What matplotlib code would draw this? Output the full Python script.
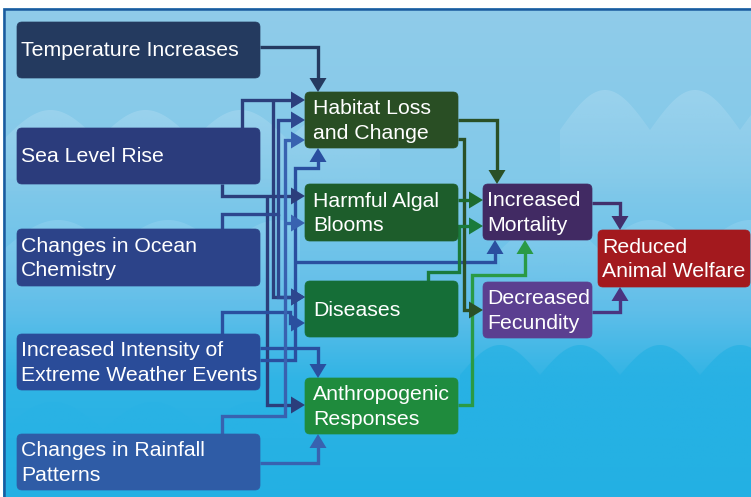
import matplotlib
matplotlib.use("Agg")
import matplotlib.pyplot as plt
import numpy as np
from matplotlib.patches import FancyBboxPatch, Polygon
from matplotlib.colors import LinearSegmentedColormap, to_rgb

# ---------------- data: nodes and links ----------------
node_ids = ["temp", "sea", "chem", "ext", "rain",
            "hab", "hab2", "dis", "anth",
            "mort", "fec", "red"]
node_labels = ["Temperature Increases", "Sea Level Rise", "Changes in Ocean\nChemistry",
               "Increased Intensity of\nExtreme Weather Events", "Changes in Rainfall\nPatterns",
               "Habitat Loss\nand Change", "Harmful Algal\nBlooms", "Diseases",
               "Anthropogenic\nResponses",
               "Increased\nMortality", "Decreased\nFecundity", "Reduced\nAnimal Welfare"]
links_src = ["temp", "sea", "sea", "sea", "sea", "chem", "chem",
             "ext", "ext", "ext", "ext", "rain", "rain", "rain",
             "hab", "hab", "hab2", "dis", "anth", "mort", "fec"]
links_dst = ["hab", "hab", "dis", "hab2", "anth", "hab", "dis",
             "hab", "mort", "dis", "anth", "hab", "hab2", "anth",
             "mort", "fec", "mort", "mort", "mort", "red", "red"]

# ---------------- layout (pixel space) ----------------
W, H = 751, 497
boxes = {
    "temp": (17, 22, 260, 78), "sea": (17, 128, 260, 184), "chem": (17, 229, 260, 286),
    "ext": (17, 334, 260, 390), "rain": (17, 434, 260, 490),
    "hab": (305, 92, 458, 148), "hab2": (305, 184, 458, 241),
    "dis": (305, 281, 458, 337), "anth": (305, 378, 458, 434),
    "mort": (483, 184, 592, 240), "fec": (483, 282, 592, 338),
    "red": (598, 230, 750, 287),
}
box_colors = {
    "temp": "#243a5f", "sea": "#2b3c7c", "chem": "#2c4389", "ext": "#2a4c99",
    "rain": "#2f5ca6", "hab": "#294e24", "hab2": "#1d5d2b", "dis": "#156e37",
    "anth": "#1f8b3d", "mort": "#412a63", "fec": "#5b3f90", "red": "#a3191e",
}
line_colors = {
    "temp": "#253a60", "sea": "#2b3e7c", "chem": "#2d478f", "ext": "#2a4f9f",
    "rain": "#3862b0", "hab": "#2a5026", "hab2": "#1d6a2e", "dis": "#1a7a3c",
    "anth": "#2a9a45", "mort": "#42306c", "fec": "#4a3580",
}
routes = {
    ("temp", "hab"): [(260, 47), (318, 47), (318, 92)],
    ("sea", "hab"): [(242, 128), (242, 100), (305, 100)],
    ("sea", "dis"): [(273, 100), (273, 297), (305, 297)],
    ("sea", "hab2"): [(222, 184), (222, 196), (305, 196)],
    ("sea", "anth"): [(267, 196), (267, 405), (305, 405)],
    ("chem", "hab"): [(222, 229), (222, 214), (278, 214), (278, 120), (305, 120)],
    ("chem", "dis"): [(278, 214), (278, 297), (305, 297)],
    ("ext", "hab"): [(260, 360), (295, 360), (295, 168), (318, 168), (318, 148)],
    ("ext", "mort"): [(295, 262), (495, 262), (495, 240)],
    ("ext", "dis"): [(222, 334), (222, 312), (290, 312), (290, 323), (305, 323)],
    ("ext", "anth"): [(260, 348), (318, 348), (318, 378)],
    ("rain", "hab"): [(222, 434), (222, 416), (285, 416), (285, 140), (305, 140)],
    ("rain", "hab2"): [(285, 223), (305, 223)],
    ("rain", "anth"): [(260, 463), (318, 463), (318, 434)],
    ("hab", "mort"): [(458, 120), (497, 120), (497, 184)],
    ("hab", "fec"): [(458, 139), (464, 139), (464, 310), (483, 310)],
    ("hab2", "mort"): [(458, 200), (483, 200)],
    ("dis", "mort"): [(428, 281), (428, 272), (459, 272), (459, 226), (483, 226)],
    ("anth", "mort"): [(458, 405), (472, 405), (472, 275), (525, 275), (525, 240)],
    ("mort", "red"): [(592, 203), (620, 203), (620, 230)],
    ("fec", "red"): [(592, 312), (620, 312), (620, 287)],
}

fig = plt.figure(figsize=(W / 100, H / 100), dpi=100)
fig.patch.set_facecolor("white")
ax = fig.add_axes([0, 0, 1, 1])
ax.set_xlim(0, W)
ax.set_ylim(H, 0)
ax.axis("off")

# background gradient
cmap = LinearSegmentedColormap.from_list(
    "bg", [(0, "#90cce9"), (0.35, "#82c9ea"), (0.62, "#5fbee9"), (0.76, "#30b4e5"), (1, "#20b0e3")])
grad = np.linspace(0, 1, 256).reshape(-1, 1)
ax.imshow(grad, cmap=cmap, extent=[3, W, H, 8], aspect="auto", zorder=0, interpolation="bicubic")


def scallop_band(x0, x1, ytop, depth, bump_w, bump_h, color, alpha, fade=True):
    xs = np.linspace(x0, x1, 400)
    phase = (xs - x0) / bump_w * np.pi
    ys = ytop - bump_h * np.abs(np.sin(phase))
    ybot = ytop + depth
    poly = Polygon(list(zip(xs, ys)) + [(x1, ybot), (x0, ybot)], closed=True,
                   facecolor="none", edgecolor="none", transform=ax.transData)
    ax.add_patch(poly)
    rgb = to_rgb(color)
    n = 128
    img = np.zeros((n, 2, 4))
    img[..., :3] = rgb
    a = np.linspace(alpha, 0 if fade else alpha, n)
    img[..., 3] = a[:, None]
    im = ax.imshow(img, extent=[x0, x1, ybot, ytop - bump_h], aspect="auto",
                   zorder=0.5, interpolation="bilinear")
    im.set_clip_path(poly)


scallop_band(3, 380, 140, 60, 95, 30, "#b0dcf2", 0.45)
scallop_band(560, 751, 130, 70, 90, 40, "#b0dcf2", 0.45)
scallop_band(3, 300, 250, 60, 110, 30, "#a0d8f2", 0.35)
scallop_band(500, 751, 250, 60, 100, 30, "#a0d8f2", 0.35)
scallop_band(460, 751, 375, 122, 80, 30, "#25b1e4", 0.7, fade=False)
scallop_band(3, 300, 430, 67, 100, 28, "#28b2e5", 0.45, fade=False)

# frame border
ax.plot([4, 4, W], [H, 9, 9], color="#1b5a9e", lw=1.8, zorder=1, solid_joinstyle="miter")

LW = 2.4


def arrowhead(p_prev, p_tip, color):
    d = np.array(p_tip, float) - np.array(p_prev, float)
    d /= np.linalg.norm(d)
    n = np.array([-d[1], d[0]])
    L, Wd = 14, 17
    tip = np.array(p_tip, float)
    base = tip - L * d
    pts = [tip, base + n * Wd / 2, base - n * Wd / 2]
    ax.add_patch(Polygon(pts, closed=True, facecolor=color, edgecolor="none", zorder=3))
    return base + 1 * d


for s, t in zip(links_src, links_dst):
    pts = routes[(s, t)]
    col = line_colors[s]
    xs = [p[0] for p in pts]
    ys = [p[1] for p in pts]
    base = arrowhead(pts[-2], pts[-1], col)
    xs[-1], ys[-1] = base[0], base[1]
    ax.plot(xs, ys, color=col, lw=LW, zorder=2, solid_joinstyle="miter", solid_capstyle="butt")

for nid, lab in zip(node_ids, node_labels):
    x0, y0, x1, y1 = boxes[nid]
    ax.add_patch(FancyBboxPatch((x0, y0), x1 - x0, y1 - y0,
                                boxstyle="round,pad=0,rounding_size=5",
                                facecolor=box_colors[nid], edgecolor=box_colors[nid], lw=0.5,
                                zorder=4))
    pad = 4 if nid not in ("hab", "hab2", "dis", "anth") else 8
    ax.text(x0 + pad, (y0 + y1) / 2 + 1, lab, color="white", fontsize=15.3,
            family="Liberation Sans", ha="left", va="center", linespacing=1.35, zorder=5)

ax.set_xlim(0, W)
ax.set_ylim(H, 0)
fig.savefig("out.png", dpi=100, facecolor="white")
